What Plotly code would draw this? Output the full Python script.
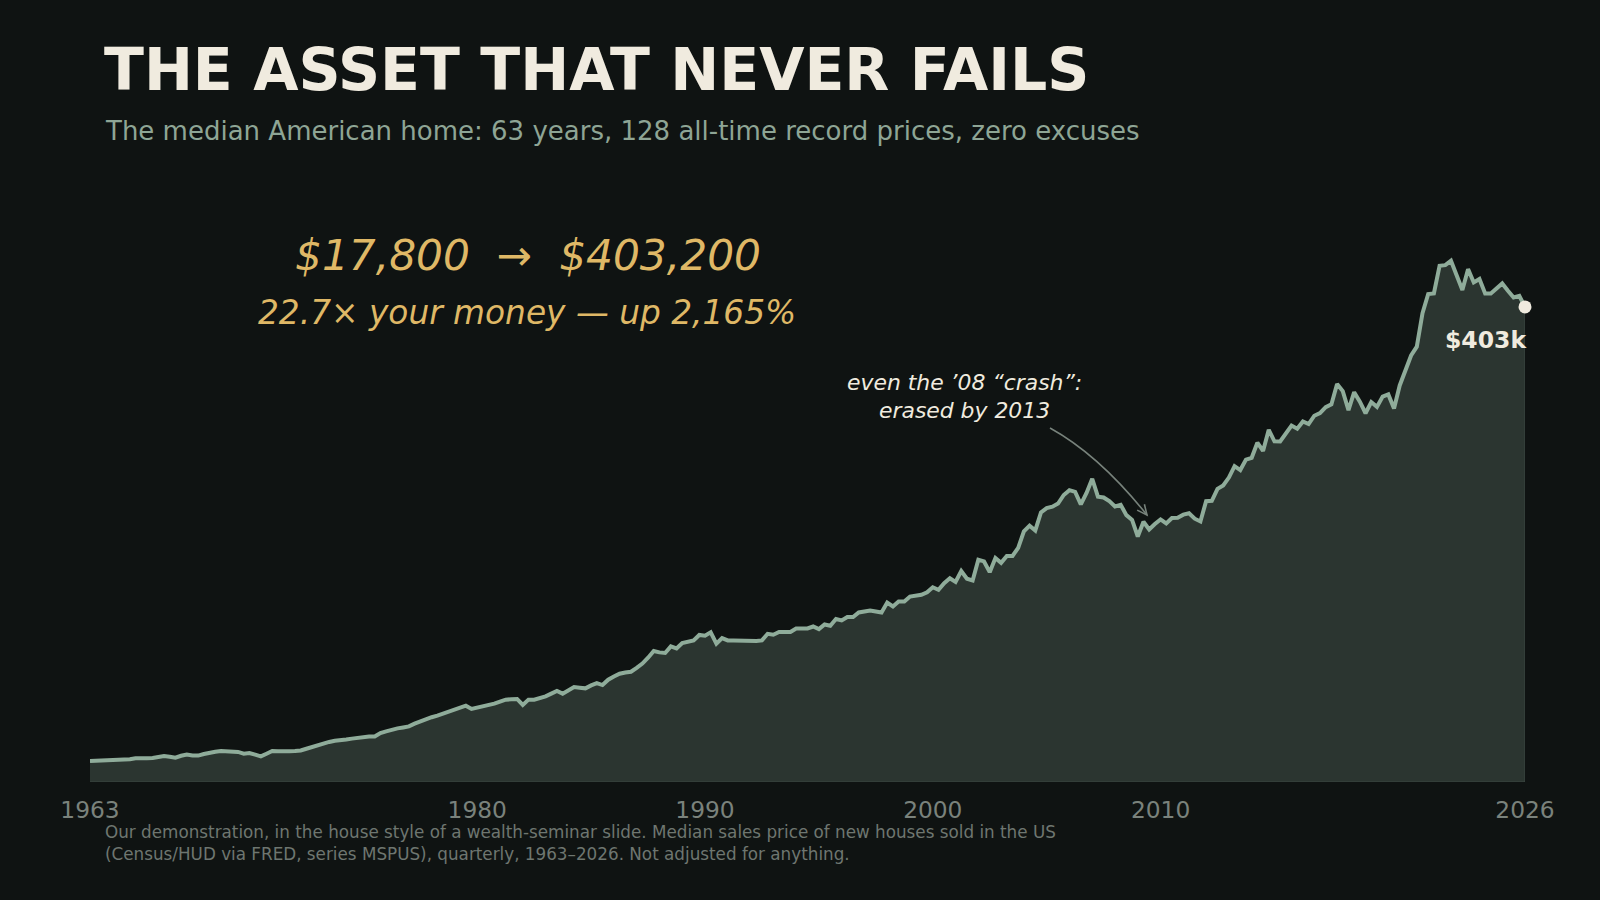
import math
import plotly.graph_objects as go

# median sales price of new houses sold in the US (FRED MSPUS), quarterly from 1963 Q1, dollars
start_year = 1963
mspus = [
    17800, 18000, 17900, 18500,      # 1963
    18500, 18900, 18900, 19400,      # 1964
    20200, 19800, 20200, 20300,      # 1965
    21000, 22100, 21500, 20700,      # 1966
    22300, 23300, 22500, 22400,      # 1967
    23800, 25000, 25700, 26300,      # 1968
    26300, 26300, 25500, 24000,      # 1969
    24600, 23200, 21700, 24000,      # 1970
    26300, 26000, 25700, 26200,      # 1971
    26300, 26800, 28200, 29700,      # 1972
    31400, 33100, 34000, 35000,      # 1973
    35900, 36000, 36800, 37600,      # 1974
    38700, 38700, 38700, 41600,      # 1975
    43000, 44400, 45500, 46300,      # 1976
    47200, 49500, 51500, 53500,      # 1977
    55000, 56300, 58000, 59700,      # 1978
    61500, 63000, 64800, 62000,      # 1979
    63000, 64200, 65300, 66500,      # 1980
    68200, 69900, 70200, 70500,      # 1981
    65400, 69900, 69900, 71300,      # 1982
    72700, 75000, 77200, 75000,      # 1983
    78000, 80600, 80000, 79500,      # 1984
    82000, 84000, 82300, 86800,      # 1985
    89500, 91900, 93000, 93600,      # 1986
    96800, 100500, 105500, 111200,   # 1987
    110000, 109500, 115100, 113400,  # 1988
    118000, 119000, 120200, 124800,  # 1989
    124200, 127000, 117400, 122200,  # 1990
    120200, 120200, 120000, 120200,  # 1991
    119300, 119700, 120200, 125800,  # 1992
    125000, 127300, 127300, 127300,  # 1993
    130300, 130000, 130300, 132000,  # 1994
    129800, 133700, 132600, 138300,  # 1995
    137100, 140000, 140000, 143900,  # 1996
    144800, 145600, 144800, 143900,  # 1997
    152300, 149000, 153200, 153200,  # 1998
    157400, 158000, 158900, 161000,  # 1999
    165300, 163200, 168800, 172900,  # 2000
    169800, 179000, 172500, 171100,  # 2001
    188700, 187200, 178100, 190100,  # 2002
    186000, 191800, 191900, 198800,  # 2003
    212700, 217600, 213500, 228800,  # 2004
    232500, 233700, 236400, 243600,  # 2005
    247700, 246300, 235600, 245400,  # 2006
    257400, 242200, 241500, 238400,  # 2007
    233900, 235300, 226500, 222500,  # 2008
    208400, 220900, 214300, 219000,  # 2009
    222900, 219500, 224100, 224300,  # 2010
    226900, 228100, 223500, 221100,  # 2011
    238400, 238700, 248800, 251700,  # 2012
    258400, 268100, 264800, 273600,  # 2013
    275200, 288000, 281000, 298900,  # 2014
    289200, 289100, 295800, 302500,  # 2015
    299800, 306000, 303800, 310900,  # 2016
    313100, 318200, 320500, 337900,  # 2017
    331800, 315600, 330900, 322800,  # 2018
    313000, 322500, 318400, 327100,  # 2019
    329000, 317100, 336600, 350000,  # 2020
    362000, 369500, 398000, 414200,  # 2021
    414700, 438100, 438700, 442400,  # 2022
    430000, 417600, 435300, 424000,  # 2023
    426900, 414700, 414700, 419000,  # 2024
    423200, 417000, 411300, 412700,  # 2025
    403200,                          # 2026
]

tick_years = [1963, 1980, 1990, 2000, 2010, 2026]
tick_text = [str(y) for y in tick_years]

x = [start_year + i / 4 for i in range(len(mspus))]

# colours
BG = "#0f1312"
LINE = "#8fac9a"
FILL = "#2b3530"
EDGE = "#3d4943"
CREAM = "#f0ebdf"
SAGE = "#8ea595"
GOLD = "#dfb866"
GREY = "#6e7670"
TICK = "#7a827c"
ARROW = "#77827b"
FONT = "DejaVu Sans"

# page geometry in pixels
W, H = 1600, 900
L, R, T, B = 90, 75, 200, 118
pw, ph = W - L - R, H - T - B
y_max = 494000


def px(xp):
    return (xp - L) / pw


def py(yp):
    return 1 - (yp - T) / ph


fig = go.Figure()

# area under the curve, with a faint edge
fig.add_trace(go.Scatter(
    x=x + [x[-1], x[0]], y=mspus + [0, 0],
    mode="lines", fill="toself", fillcolor=FILL,
    line=dict(color=EDGE, width=1), hoverinfo="skip", showlegend=False,
))
fig.add_trace(go.Scatter(
    x=x, y=mspus, mode="lines",
    line=dict(color=LINE, width=4),
    cliponaxis=False, showlegend=False,
))
fig.add_trace(go.Scatter(
    x=[x[-1]], y=[mspus[-1]], mode="markers",
    marker=dict(size=13, color=CREAM),
    cliponaxis=False, showlegend=False,
))

# curved arrow for the annotation (pixel positions -> paper)
sx, sy = 1050, 428
cx, cy = 1099, 455
ex, ey = 1147, 515
dx, dy = ex - cx, ey - cy
n = math.hypot(dx, dy)
bx, by = -dx / n, -dy / n
head = []
for a in (math.radians(25), -math.radians(25)):
    hx = bx * math.cos(a) - by * math.sin(a)
    hy = bx * math.sin(a) + by * math.cos(a)
    head.append((ex + 11 * hx, ey + 11 * hy))

shapes = [
    dict(type="path", xref="paper", yref="paper",
         path=f"M {px(sx)},{py(sy)} Q {px(cx)},{py(cy)} {px(ex)},{py(ey)}",
         line=dict(color=ARROW, width=1.6)),
    dict(type="path", xref="paper", yref="paper",
         path=(f"M {px(head[0][0])},{py(head[0][1])} L {px(ex)},{py(ey)} "
               f"L {px(head[1][0])},{py(head[1][1])}"),
         line=dict(color=ARROW, width=1.6)),
]

annotations = [
    dict(text="<b>THE ASSET THAT NEVER FAILS</b>", x=px(102), y=py(70),
         xanchor="left", yanchor="middle", font=dict(size=58.5, color=CREAM)),
    dict(text="The median American home: 63 years, 128 all-time record prices, zero excuses",
         x=px(103), y=py(131), xanchor="left", yanchor="middle",
         font=dict(size=26, color=SAGE)),
    dict(text="<i>$17,800\u00a0\u00a0→\u00a0\u00a0$403,200</i>", x=px(528), y=py(255),
         xanchor="center", yanchor="middle", font=dict(size=42.3, color=GOLD)),
    dict(text="<i>22.7× your money — up 2,165%</i>", x=px(527), y=py(313),
         xanchor="center", yanchor="middle", font=dict(size=32.8, color=GOLD)),
    dict(text="<i>even the ’08 “crash”:<br>erased by 2013</i>", x=px(964), y=py(396),
         xanchor="center", yanchor="middle", font=dict(size=21.9, color=CREAM)),
    dict(text="<b>$403k</b>", x=x[-1], y=mspus[-1], xref="x", yref="y",
         xshift=-39, yshift=-33, xanchor="center", yanchor="middle",
         font=dict(size=23.5, color=CREAM)),
    dict(text=("Our demonstration, in the house style of a wealth-seminar slide. "
               "Median sales price of new houses sold in the US<br>"
               "(Census/HUD via FRED, series MSPUS), quarterly, 1963–2026. "
               "Not adjusted for anything."),
         x=px(103), y=py(843), xanchor="left", yanchor="middle", align="left",
         font=dict(size=16.8, color=GREY)),
]
for a in annotations:
    a.setdefault("xref", "paper")
    a.setdefault("yref", "paper")
    a["showarrow"] = False

fig.update_layout(
    width=W, height=H,
    margin=dict(l=L, r=R, t=T, b=B, pad=0),
    paper_bgcolor=BG, plot_bgcolor=BG,
    font=dict(family=FONT),
    xaxis=dict(range=[start_year, 2026], tickvals=tick_years, ticktext=tick_text,
               showgrid=False, zeroline=False, showline=False, ticks="",
               ticklabelstandoff=12,
               tickfont=dict(size=23.3, color=TICK), automargin=False),
    yaxis=dict(range=[0, y_max], visible=False, automargin=False),
    shapes=shapes,
    annotations=annotations,
    showlegend=False,
    hovermode=False,
)

fig.write_html("out.html", config={"displayModeBar": False},
               post_script="document.body.style.margin = '0';")
